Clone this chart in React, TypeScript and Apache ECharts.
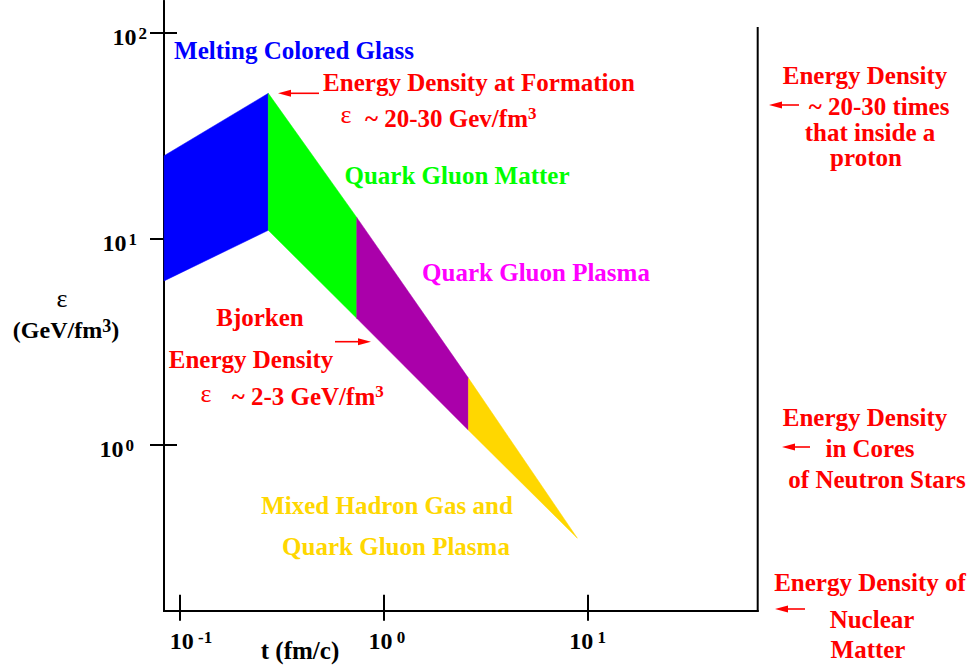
import React, { useEffect, useRef } from 'react';
import * as echarts from 'echarts';

const FONT = "'Liberation Serif', 'Times New Roman', serif";

// Phase bands of the energy-density evolution (t in fm/c, epsilon in GeV/fm^3)
const phaseNames = ['Melting Colored Glass', 'Quark Gluon Matter', 'Quark Gluon Plasma', 'Mixed Hadron Gas and Quark Gluon Plasma'];
const phaseColors = ['#0000ff', '#00ff00', '#aa00aa', '#ffd700'];
const tBounds = [0.0835, 0.271, 0.736, 2.6, 8.9];
const epsUpper = [25.3, 50.8, 12.7, 2.11, 0.353];
const epsLower = [6.25, 11.0, 4.12, 1.18, 0.353];

// axis ranges and ticks (decades)
const tRange = [0.0834, 68.3];
const epsRange = [0.157, 142.5];
const xTickExponents = [-1, 0, 1];
const yTickExponents = [0, 1, 2];

const RED = '#ff0000';
const FS = 25;

function arrow(x1: number, y1: number, x2: number, y2: number) {
  const dir = Math.sign(x2 - x1);
  const head = 13;
  const hw = 3.5;
  return [
    { type: 'line', shape: { x1, y1, x2: x2 - dir * head * 0.7, y2 }, style: { stroke: RED, lineWidth: 1.6 } },
    { type: 'polygon', shape: { points: [[x2, y2], [x2 - dir * head, y2 - hw], [x2 - dir * head, y2 + hw]] }, style: { fill: RED } },
  ];
}

function txt(text: string, x: number, y: number, color: string, align = 'center', extra: any = {}) {
  return {
    type: 'text',
    x,
    y,
    style: {
      text,
      fill: color,
      fontSize: FS,
      fontWeight: 'bold',
      fontFamily: FONT,
      align,
      verticalAlign: 'middle',
      ...extra,
    },
  };
}

function supRich(color: string, mainSize = FS, supSize = 17) {
  return {
    rich: {
      n: { fontSize: mainSize, fontWeight: 'bold', fontFamily: FONT, color, lineHeight: 26 },
      s: { fontSize: supSize, fontWeight: 'bold', fontFamily: FONT, color, lineHeight: 4, verticalAlign: 'top' },
    },
  };
}

export default function App() {
  const ref = useRef<HTMLDivElement>(null);

  useEffect(() => {
    if (!ref.current) return;
    const chart = echarts.init(ref.current, undefined, { renderer: 'svg' });

    const X0 = Math.log10(tRange[0]);
    const X1 = Math.log10(tRange[1]);
    const Y0 = Math.log10(epsRange[0]);
    const Y1 = Math.log10(epsRange[1]);

    const bandData = phaseNames.map((name, i) => ({
      name,
      value: [Math.log10(tBounds[i]), Math.log10(epsUpper[i]), i],
    }));

    const axisLineStyle = { color: '#000', width: 2 };
    const xBase = {
      type: 'value',
      min: X0,
      max: X1,
      position: 'bottom',
      splitLine: { show: false },
      axisLine: { show: true, onZero: false, lineStyle: axisLineStyle },
    };
    const yBase = {
      type: 'value',
      min: Y0,
      max: Y1,
      position: 'left',
      splitLine: { show: false },
      axisLine: { show: true, onZero: false, lineStyle: axisLineStyle },
    };

    const labelFont = { fontFamily: FONT, fontWeight: 'bold', color: '#000' };

    const option: any = {
      animation: false,
      backgroundColor: '#ffffff',
      grid: { left: 164, right: 210.3, top: 1, bottom: 59.3, outerBoundsMode: 'none' },
      xAxis: [
        {
          ...xBase,
          axisTick: { show: true, customValues: xTickExponents, length: 10, inside: false, lineStyle: axisLineStyle },
          axisLabel: {
            show: true,
            customValues: xTickExponents,
            margin: 18,
            formatter: (v: number) => {
              const e = Math.round(v);
              return `{a${e + 1}|10}{s| ${e}}`;
            },
            rich: {
              a0: { ...labelFont, fontSize: 24, lineHeight: 24, padding: [0, 0, 0, 22] },
              a1: { ...labelFont, fontSize: 24, lineHeight: 24, padding: [0, 0, 0, 6] },
              a2: { ...labelFont, fontSize: 24, lineHeight: 24 },
              s: { ...labelFont, fontSize: 17, lineHeight: 2, verticalAlign: 'top' },
            },
          },
        },
        {
          ...xBase,
          axisTick: { show: true, customValues: xTickExponents, length: 16, inside: true, lineStyle: axisLineStyle },
          axisLabel: { show: false },
        },
      ],
      yAxis: [
        {
          ...yBase,
          axisTick: { show: true, customValues: yTickExponents, length: 14, inside: false, lineStyle: axisLineStyle },
          axisLabel: {
            show: true,
            customValues: yTickExponents,
            margin: 17,
            padding: [8, 0, 0, 0],
            formatter: (v: number) => {
              const e = Math.round(v);
              return `{b|10}{s${e}|${e}}`;
            },
            rich: {
              b: { ...labelFont, fontSize: 24, lineHeight: 24 },
              s2: { ...labelFont, fontSize: 17, lineHeight: 2, verticalAlign: 'top', padding: [0, 0, 0, 2] },
              s1: { ...labelFont, fontSize: 17, lineHeight: 2, verticalAlign: 'top', padding: [0, 10, 0, 2] },
              s0: { ...labelFont, fontSize: 17, lineHeight: 2, verticalAlign: 'top', padding: [0, 13, 0, 2] },
            },
          },
        },
        {
          ...yBase,
          axisTick: { show: true, customValues: yTickExponents, length: 13, inside: true, lineStyle: axisLineStyle },
          axisLabel: { show: false },
        },
      ],
      series: [
        {
          type: 'custom',
          xAxisIndex: 0,
          yAxisIndex: 0,
          data: bandData,
          renderItem: (params: any, api: any) => {
            const i = api.value(2);
            const pts = [
              [tBounds[i], epsUpper[i]],
              [tBounds[i + 1], epsUpper[i + 1]],
              [tBounds[i + 1], epsLower[i + 1]],
              [tBounds[i], epsLower[i]],
            ].map((p) => api.coord([Math.log10(p[0]), Math.log10(p[1])]));
            return {
              type: 'polygon',
              shape: { points: pts },
              style: { fill: phaseColors[i], stroke: phaseColors[i], lineWidth: 0.5 },
            };
          },
        },
      ],
      graphic: [
        // right frame line
        { type: 'line', shape: { x1: 757.7, y1: 27, x2: 757.7, y2: 611.7 }, style: { stroke: '#000', lineWidth: 2 } },
        // axis names
        txt('\u03b5', 62, 298, '#000', 'center', { fontSize: 26, fontWeight: 'normal' }),
        txt('{n|(GeV/fm}{s|3}{n|)}', 66, 330, '#000', 'center', supRich('#000', 24, 18)),
        txt('t (fm/c)', 300, 650, '#000', 'center', { fontSize: 25 }),
        // phase labels
        txt('Melting Colored Glass', 294, 50, '#0000ff'),
        txt('Quark Gluon Matter', 457, 175, '#00ff00'),
        txt('Quark Gluon Plasma', 536, 272, '#ff00ff'),
        txt('Mixed Hadron Gas and', 387, 505, '#ffd700'),
        txt('Quark Gluon Plasma', 396, 546, '#ffd700'),
        // formation energy density
        txt('Energy Density at Formation', 479, 82, RED),
        txt('\u03b5', 346, 114, RED, 'center', { fontSize: 26, fontWeight: 'normal' }),
        txt('{n|~ 20-30 Gev/fm}{s|3}', 365, 118, RED, 'left', supRich(RED)),
        ...arrow(319, 93.3, 278, 93.3),
        // Bjorken
        txt('Bjorken', 260, 317, RED),
        txt('Energy Density', 251, 359, RED),
        txt('\u03b5', 206, 393, RED, 'center', { fontSize: 26, fontWeight: 'normal' }),
        txt('{n|~ 2-3 GeV/fm}{s|3}', 231.7, 396, RED, 'left', supRich(RED)),
        ...arrow(335, 341.7, 371, 341.7),
        // right side comparisons
        txt('Energy Density', 865, 75, RED),
        txt('~ 20-30 times', 879, 106, RED),
        txt('that inside a', 870, 132, RED),
        txt('proton', 866, 157, RED),
        ...arrow(799, 105, 769, 105),
        txt('Energy Density', 865, 417, RED),
        txt('in Cores', 870, 448, RED),
        txt('of Neutron Stars', 877, 479, RED),
        ...arrow(810, 447, 782, 447),
        txt('Energy Density of', 870, 582, RED),
        txt('Nuclear', 872, 619, RED),
        txt('Matter', 868, 649, RED),
        ...arrow(805, 609, 775, 609),
      ],
    };

    chart.setOption(option);
    return () => chart.dispose();
  }, []);

  return (
    <div
      ref={ref}
      style={{ position: 'absolute', left: 0, top: 0, width: 968, height: 670, background: '#fff' }}
    />
  );
}
